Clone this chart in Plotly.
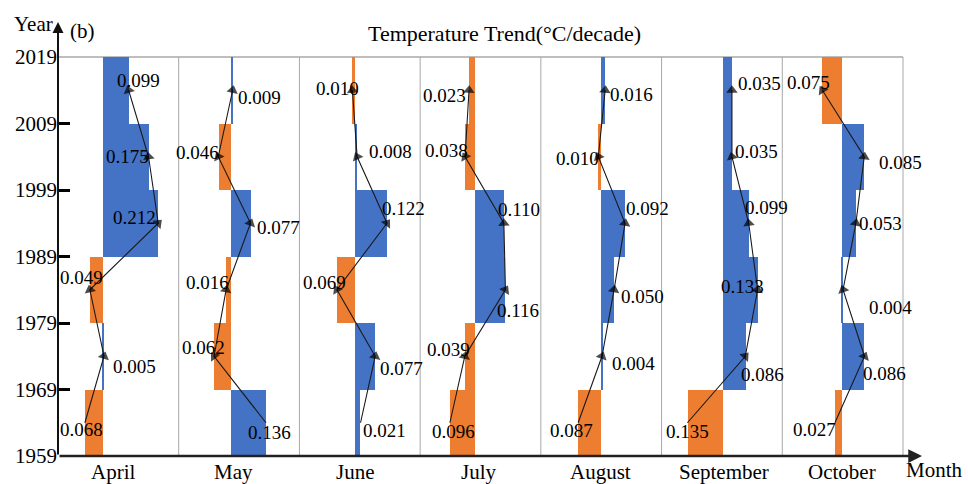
import plotly.graph_objects as go

# ---------------- data ----------------
MONTHS = ["April", "May", "June", "July", "August", "September", "October"]
DECADE_START = [1959, 1969, 1979, 1989, 1999, 2009]
YEAR_TICKS = [1959, 1969, 1979, 1989, 1999, 2009, 2019]

APRIL = [-0.068, 0.005, -0.049, 0.212, 0.175, 0.099]
MAY = [0.136, -0.062, -0.016, 0.077, -0.046, 0.009]
JUNE = [0.021, 0.077, -0.069, 0.122, 0.008, -0.010]
JULY = [-0.096, -0.039, 0.116, 0.110, -0.038, -0.023]
AUGUST = [-0.087, 0.004, 0.050, 0.092, -0.010, 0.016]
SEPTEMBER = [-0.135, 0.086, 0.133, 0.099, 0.035, 0.035]
OCTOBER = [-0.027, 0.086, 0.004, 0.053, 0.085, -0.075]
SERIES = [APRIL, MAY, JUNE, JULY, AUGUST, SEPTEMBER, OCTOBER]

# ---------------- style ----------------
BLUE = "#4472C4"
ORANGE = "#ED7D31"
GRID = "#a8a8a8"
FONT = "Liberation Serif"
PX_PER_UNIT = 262.0
PANEL_PX = 845.0 / 7
BASE_OFFSET_PX = [44.7, 51.6, 55.6, 54.9, 60.1, 61.2, 59.7]
MONTH_LABEL_DX = [10, 3, 0, 4, 0, 1, 0]

# label offsets (px, +dy = downward) relative to the trend point
LABEL_DX = [
    [-3, 30, -8, -24, -21, 10],
    [4, -11, -19, 28, -21, 27],
    [24, 26, -12, 17, 33, -15],
    [4, -16, 13, 15, -19, -25],
    [-7, 31, 28, 22, -21, 26],
    [0, 17, -15, 18, 25, 28],
    [-20, 20, 47, 25, 36, -14],
]
LABEL_DY = [
    [7, 10, -12, -6, 0, -10],
    [10, -9, -7, 4, -4, 7],
    [8, 12, -7, -15, -5, -2],
    [9, -7, 21, -14, -6, 5],
    [8, 7, 7, -15, 2, 4],
    [9, 18, -3, -16, -5, -7],
    [7, 17, 18, 0, 6, -8],
]

mids = [d + 5 for d in DECADE_START]

fig = go.Figure()
layout_axes = {}
annotations = []

for i, (month, vals) in enumerate(zip(MONTHS, SERIES)):
    xa = "x" if i == 0 else f"x{i+1}"
    axname = "xaxis" if i == 0 else f"xaxis{i+1}"
    colors = [BLUE if v >= 0 else ORANGE for v in vals]
    fig.add_trace(go.Bar(
        x=vals, y=mids, orientation="h", base=0, width=10,
        marker=dict(color=colors, line=dict(width=0)),
        xaxis=xa, yaxis="y", showlegend=False, hoverinfo="skip",
    ))
    fig.add_trace(go.Scatter(
        x=vals, y=mids, mode="lines+markers", xaxis=xa, yaxis="y",
        line=dict(color="#1a1a1a", width=1.1),
        marker=dict(symbol="triangle-up", angleref="previous",
                    size=[0] + [10] * (len(vals) - 1), color="black",
                    line=dict(width=0)),
        showlegend=False, hoverinfo="skip", cliponaxis=False,
    ))
    off = BASE_OFFSET_PX[i]
    layout_axes[axname] = dict(
        domain=[i / 7, (i + 1) / 7],
        range=[-off / PX_PER_UNIT, (PANEL_PX - off) / PX_PER_UNIT],
        anchor="y", showgrid=False, zeroline=False, showticklabels=False,
        showline=False, ticks="", fixedrange=True,
    )
    for j, v in enumerate(vals):
        annotations.append(dict(
            xref=xa, yref="y", x=v, y=mids[j], text=f"{abs(v):.3f}",
            showarrow=False, xshift=LABEL_DX[i][j], yshift=-LABEL_DY[i][j],
            xanchor="center", yanchor="middle",
            font=dict(family=FONT, size=19, color="black"),
        ))
    annotations.append(dict(
        xref=xa, yref="paper", x=0, y=0, text=month, showarrow=False,
        xshift=MONTH_LABEL_DX[i], yshift=-16, yanchor="middle", xanchor="center",
        font=dict(family=FONT, size=21, color="black"),
    ))

# axis arrows
annotations.append(dict(
    xref="paper", yref="paper", x=(922 - 58) / 845, y=0, ax=-864, ay=0,
    axref="pixel", ayref="pixel", showarrow=True, arrowhead=2, arrowsize=1.1,
    arrowwidth=2.5, arrowcolor="#222", text="",
))
annotations.append(dict(
    xref="paper", yref="paper", x=0, y=(456 - 22) / 399, ax=0, ay=434,
    axref="pixel", ayref="pixel", showarrow=True, arrowhead=2, arrowsize=1.1,
    arrowwidth=2, arrowcolor="#111", text="",
))
# texts
annotations += [
    dict(xref="paper", yref="paper", x=(505 - 58) / 845, y=(456 - 33) / 399,
         text="Temperature Trend(°C/decade)", showarrow=False,
         xanchor="center", yanchor="middle",
         font=dict(family=FONT, size=22, color="black")),
    dict(xref="paper", yref="paper", x=(68 - 58) / 845, y=(456 - 31) / 399,
         text="(b)", showarrow=False, xanchor="left", yanchor="middle",
         font=dict(family=FONT, size=21, color="black")),
    dict(xref="paper", yref="paper", x=(55 - 58) / 845, y=(456 - 24) / 399,
         text="Year", showarrow=False, xanchor="right", yanchor="middle",
         font=dict(family=FONT, size=21, color="black")),
    dict(xref="paper", yref="paper", x=(904 - 58) / 845, y=(456 - 470) / 399,
         text="Month", showarrow=False, xanchor="left", yanchor="middle",
         font=dict(family=FONT, size=21, color="black")),
]

shapes = []
for k in range(1, 8):
    shapes.append(dict(type="line", xref="paper", yref="paper", x0=k / 7, x1=k / 7,
                       y0=0, y1=1, line=dict(color=GRID, width=1), layer="below"))
shapes.append(dict(type="line", xref="paper", yref="paper", x0=0, x1=1, y0=1, y1=1,
                   line=dict(color=GRID, width=1.5), layer="below"))

fig.update_layout(
    width=968, height=484,
    margin=dict(l=58, r=65, t=57, b=28),
    paper_bgcolor="white", plot_bgcolor="white",
    barmode="overlay", bargap=0,
    showlegend=False,
    yaxis=dict(
        range=[1959, 2019], tickvals=YEAR_TICKS, ticks="inside", ticklen=12,
        tickwidth=3, tickcolor="black", showgrid=False, zeroline=False,
        showline=False, anchor="x", fixedrange=True,
        tickfont=dict(family=FONT, size=21, color="black"),
    ),
    annotations=annotations,
    shapes=shapes,
    **layout_axes,
)

fig.write_html("out.html")
